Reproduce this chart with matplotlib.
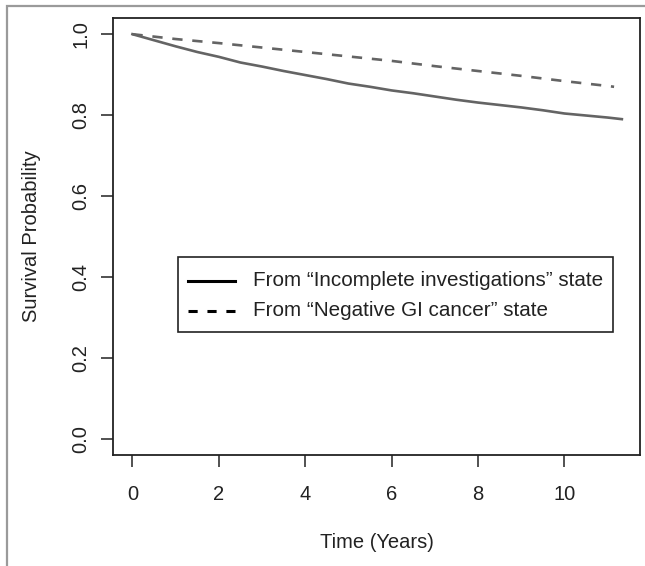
import numpy as np
import matplotlib
matplotlib.use("Agg")
import matplotlib.pyplot as plt
from matplotlib.lines import Line2D
from matplotlib.patches import Rectangle

# survival curves (years, probability)
t_incomplete = [0, 0.5, 1, 1.5, 2, 2.5, 3, 3.5, 4, 4.5, 5, 5.5, 6, 6.5, 7, 7.5,
                8, 8.5, 9, 9.5, 10, 10.5, 11, 11.33]
s_incomplete = [1.0, 0.985, 0.970, 0.956, 0.944, 0.930, 0.920, 0.909, 0.899, 0.889,
                0.878, 0.870, 0.861, 0.854, 0.846, 0.838, 0.831, 0.825, 0.819,
                0.812, 0.804, 0.799, 0.794, 0.790]

t_negative = [0, 1, 2, 3, 4, 5, 6, 7, 8, 9, 10, 11, 11.15]
s_negative = [1.0, 0.988, 0.978, 0.967, 0.956, 0.945, 0.934, 0.921, 0.909, 0.897,
              0.884, 0.872, 0.870]

legend_labels = ["From \u201cIncomplete investigations\u201d state",
                 "From \u201cNegative GI cancer\u201d state"]
x_ticks = [0, 2, 4, 6, 8, 10]
y_ticks = [0.0, 0.2, 0.4, 0.6, 0.8, 1.0]

W, H = 645, 566
plt.rcParams['font.family'] = ['Liberation Sans', 'DejaVu Sans']

fig = plt.figure(figsize=(W / 100, H / 100), dpi=100)

def fx(px):
    return px / W

def fy(py):
    return 1 - py / H

# outer grey frame (clipped on right/bottom in the original)
fig.patches.append(Rectangle((fx(7), fy(575)), fx(660), fy(6) - fy(575),
                             transform=fig.transFigure, fill=False,
                             edgecolor='#9a9a9a', linewidth=1.6))

ax = fig.add_axes([fx(113), fy(455), fx(640) - fx(113), fy(18) - fy(455)])

line_col = '#646464'
ax.plot(t_incomplete, s_incomplete, color=line_col, lw=1.9)
ax.plot(t_negative, s_negative, color=line_col, lw=1.9,
        dashes=(3.9, 3.7), dash_capstyle='butt')

ax.set_xlim(-0.45, 11.75)
ax.set_ylim(-0.04, 1.04)
ax.set_xticks(x_ticks)
ax.set_yticks(y_ticks)
ax.set_xticklabels([str(v) for v in x_ticks])
ax.set_yticklabels(['%.1f' % v for v in y_ticks], rotation=90, va='center')
ax.tick_params(length=8.5, width=1.1, color='#222222', labelsize=14.5,
               labelcolor='#222222', pad=13)
ax.tick_params(axis='y', pad=8)
for sp in ax.spines.values():
    sp.set_linewidth(1.3)
    sp.set_color('#222222')

ax.set_xlabel('Time (Years)', fontsize=14.5, color='#222222', labelpad=21)
ax.set_ylabel('Survival Probability', fontsize=14.5, color='#222222', labelpad=22)

# legend box drawn in figure pixel coordinates
fig.patches.append(Rectangle((fx(178), fy(332)), fx(613) - fx(178), fy(257) - fy(332),
                             transform=fig.transFigure, fill=False,
                             edgecolor='#222222', linewidth=1.2))
rows = [281, 311]
fig.lines.append(Line2D([fx(188), fx(235)], [fy(rows[0])] * 2, transform=fig.transFigure,
                        color='black', lw=2.2))
fig.lines.append(Line2D([fx(188), fx(235)], [fy(rows[1])] * 2, transform=fig.transFigure,
                        color='black', lw=2.2, dashes=(3.0, 3.2), dash_capstyle='butt'))
for r, lab in zip(rows, legend_labels):
    fig.text(fx(253), fy(r), lab, fontsize=14.9, color='#222222', va='center', ha='left')

fig.savefig('out.png', dpi=100)
